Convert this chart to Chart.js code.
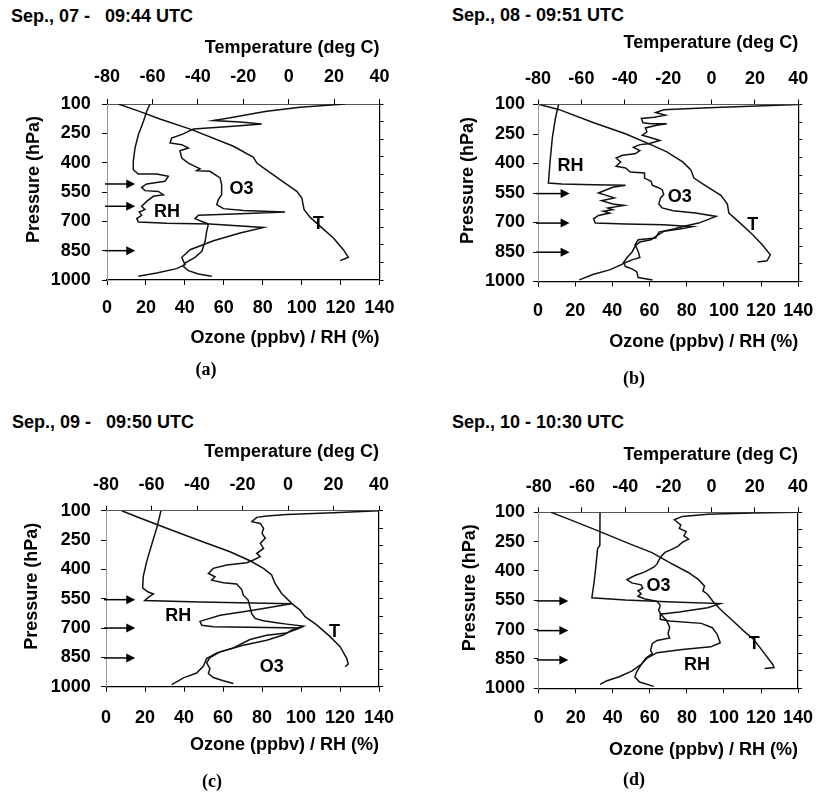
<!DOCTYPE html>
<html>
<head>
<meta charset="utf-8">
<script src="https://cdn.jsdelivr.net/npm/chart.js@4.4.1/dist/chart.umd.min.js"></script>
<style>
body { margin: 0; width: 827px; height: 798px; background: #fff; position: relative; overflow: hidden; }
canvas { position: absolute; }
.when { position: absolute; font: bold 18px "Liberation Sans", Arial, sans-serif; line-height: 21.6px; white-space: pre; color: #000; }
.cap { position: absolute; width: 60px; text-align: center; font: bold 18px "Liberation Serif", "Times New Roman", serif; line-height: 21.6px; color: #000; }
</style>
</head>
<body>
<div class="when" style="left:11px;top:6px">Sep., 07 -   09:44 UTC</div>
<div class="when" style="left:452px;top:5px">Sep., 08 - 09:51 UTC</div>
<div class="when" style="left:12px;top:412px">Sep., 09 -   09:50 UTC</div>
<div class="when" style="left:452px;top:412px">Sep., 10 - 10:30 UTC</div>

<canvas id="panelA" width="413" height="398" style="left:0;top:0"></canvas>
<canvas id="panelB" width="417" height="398" style="left:410px;top:0"></canvas>
<canvas id="panelC" width="413" height="400" style="left:0;top:398px"></canvas>
<canvas id="panelD" width="417" height="400" style="left:410px;top:398px"></canvas>

<div class="cap" style="left:176px;top:359px">(a)</div>
<div class="cap" style="left:604px;top:368px">(b)</div>
<div class="cap" style="left:182px;top:771px">(c)</div>
<div class="cap" style="left:604px;top:769px">(d)</div>

<script>
// profiles as [pressure (hPa), value]; T in deg C, O3 in ppbv, RH in %

// Sep 07
const tempA = [[100,-75],[139,-65.4],[177,-56.7],[231,-42.7],[316,-24.3],[373,-15.5],[402,-14.0],[427,-11.1],[487,-3.8],[547,3.6],[581,5.8],[640,6.8],[680,9.5],[726,13.9],[785,19.7],[845,24.1],[884,26.3],[901,22.7]];
const o3A = [[100,122.3],[117,99.2],[137,82.1],[146,76.9],[168,64.9],[185,54.7],[192,68.4],[202,79.5],[214,64.9],[228,44.4],[240,41.8],[253,39.2],[274,33.2],[299,32.4],[308,38.4],[325,41.8],[339,37.5],[376,38.4],[402,41.8],[419,45.2],[431,47.8],[441,46.1],[444,52.9],[461,55.5],[478,58.1],[512,58.9],[564,58.9],[589,57.2],[615,56.4],[635,59.8],[644,70.1],[652,91.5],[661,68.4],[669,47.0],[686,45.2],[697,47.8],[714,52.1],[751,51.2],[802,50.4],[853,48.7],[884,45.2],[913,40.1],[930,39.2],[952,41.8],[969,46.9],[981,53.8]];
const rhA = [[100,22.1],[137,20.4],[189,18.7],[257,16.1],[325,14.4],[393,13.5],[436,13.5],[458,16.1],[458,25.5],[470,31.5],[495,29.8],[509,20.4],[526,17.8],[543,19.5],[547,26.4],[564,29.0],[572,23.8],[598,20.4],[623,17.8],[640,19.5],[652,16.6],[669,17.8],[686,15.3],[703,16.1],[710,30.7],[714,52.9],[731,80.4],[760,68.4],[799,54.7],[845,42.7],[884,38.4],[922,40.1],[942,35.8],[964,25.5],[981,16.1]];
const arrowsA = [509, 623, 850];
const tagsA = [['O3', 69.1, 535], ['RH', 30.8, 652], ['T', 13.0, 714]];

// Sep 08
const tempB = [[100,-79.4],[125,-70.5],[193,-54.3],[249,-39.7],[304,-28.0],[341,-20.6],[392,-13.3],[431,-9.6],[474,-8.1],[511,-3.0],[562,4.3],[606,7.3],[652,8.0],[703,13.2],[762,19.0],[813,23.4],[864,27.1],[895,25.6],[901,21.2]];
const o3B = [[100,140],[117,91.6],[127,67.6],[141,63.3],[154,68.5],[165,62.5],[171,55.6],[193,56.5],[198,60.8],[198,69.3],[205,63.9],[219,57.8],[239,58.6],[256,56.1],[270,61.2],[283,65.6],[300,59.5],[304,54.8],[318,51.3],[334,54.8],[351,52.2],[358,45.4],[372,42.0],[392,44.5],[414,42.0],[423,47.1],[443,49.6],[448,57.3],[474,57.3],[491,60.8],[511,61.6],[521,64.2],[533,66.8],[558,67.6],[575,65.9],[606,65.0],[626,66.8],[640,72.7],[652,84.7],[669,95.8],[703,86.4],[720,77.9],[732,73.6],[749,65.0],[779,63.3],[788,53.9],[813,52.2],[847,53.9],[878,54.8],[890,50.5],[907,46.2],[924,47.1],[936,50.5],[950,53.1],[980,53.9],[992,61.6]];
const rhB = [[100,11.1],[168,9.4],[270,7.7],[389,6.5],[499,5.6],[504,12.8],[508,29.9],[511,47.1],[521,40.2],[550,32.5],[562,36.8],[575,41.1],[589,34.2],[606,40.2],[613,46.2],[626,37.6],[635,40.2],[643,35.1],[652,38.5],[664,32.5],[681,29.9],[703,30.8],[708,47.1],[711,67.6],[721,83.0],[733,76.2],[745,67.6],[766,64.2],[788,60.8],[799,54.8],[821,52.2],[851,50.5],[878,47.9],[912,45.4],[941,38.5],[963,29.9],[992,22.2]];
const arrowsB = [553, 703, 851];
const tagsB = [['RH', 17.5, 414], ['O3', 76.2, 570], ['T', 19.0, 715]];

// Sep 09
const tempC = [[100,-73.1],[131,-66.5],[190,-53.3],[254,-38.7],[310,-25.5],[356,-16.7],[395,-10.8],[429,-7.2],[472,-5.7],[523,-2.8],[574,1.6],[608,5.3],[642,7.5],[684,12.6],[744,18.5],[795,22.9],[855,25.8],[884,26.5],[898,25.1]];
const o3C = [[100,140],[110,116.6],[119,92.6],[127,82.4],[134,77.3],[156,74.8],[165,79.1],[190,80.8],[216,80.0],[241,81.7],[267,79.1],[293,80.8],[318,77.3],[335,79.1],[352,75.6],[366,72.2],[378,61.9],[395,55.0],[421,52.5],[438,55.9],[455,54.2],[468,60.2],[475,67.0],[503,69.6],[532,70.4],[557,72.9],[591,73.8],[625,74.7],[651,76.4],[663,80.7],[673,87.5],[680,92.6],[690,101.2],[711,95.2],[736,90.9],[762,82.4],[788,70.4],[822,58.5],[851,53.3],[878,51.6],[907,53.3],[933,52.5],[953,55.0],[970,60.2],[984,65.3]];
const rhC = [[100,28.2],[189,26.0],[274,23.4],[359,20.9],[436,19.1],[496,18.8],[516,21.7],[526,24.3],[543,21.7],[559,19.9],[567,48.2],[576,95.2],[612,73.8],[635,58.5],[666,48.2],[686,49.1],[693,55.0],[700,99.5],[726,92.6],[737,82.4],[759,73.8],[802,65.3],[827,56.8],[856,51.6],[896,49.9],[930,46.5],[955,39.7],[989,33.7]];
const arrowsC = [555, 700, 853];
const tagsC = [['RH', 37.1, 640], ['T', 20.4, 719], ['O3', 85.0, 901]];

// Sep 10
const tempD = [[100,-74.3],[127,-67.9],[195,-52.5],[264,-37.3],[306,-27.6],[357,-19.4],[409,-10.6],[443,-6.2],[477,-3.3],[502,-4.0],[519,-1.9],[562,1.1],[596,4.0],[656,9.9],[715,15.7],[749,19.4],[801,23.0],[877,28.2],[894,28.9],[899,24.5]];
const o3D = [[100,140],[103,115.1],[110,91.2],[121,77.5],[138,73.2],[151,74.9],[165,76.7],[182,75.9],[199,79.6],[220,78.4],[237,80.9],[254,77.5],[274,75.0],[291,71.5],[305,68.1],[322,66.4],[347,64.7],[364,63.9],[381,62.1],[406,57.0],[423,51.9],[444,47.6],[461,50.2],[471,55.3],[488,56.2],[501,53.6],[517,55.3],[529,53.6],[542,57.0],[556,63.9],[576,65.6],[602,64.7],[627,66.4],[653,69.0],[687,70.7],[721,69.8],[743,70.7],[755,63.9],[772,61.3],[806,60.4],[823,61.3],[845,57.9],[879,55.3],[917,52.8],[942,51.9],[968,54.5],[990,62.1]];
const rhD = [[100,33.1],[270,33.0],[285,31.8],[380,30.8],[450,30.0],[537,28.7],[549,46.8],[559,72.4],[567,98.0],[588,91.2],[610,75.8],[621,65.6],[647,65.6],[656,70.7],[668,87.8],[690,93.7],[724,96.3],[767,98.0],[788,92.9],[801,77.5],[818,63.9],[844,58.7],[878,55.3],[912,50.2],[941,43.4],[963,36.5],[980,33.1]];
const arrowsD = [553, 705, 855];
const tagsD = [['O3', 64.7, 477], ['RH', 85.4, 879], ['T', 19.7, 772]];

const SANS = '"Liberation Sans", Arial, sans-serif';
const boldFont = { family: SANS, size: 18, weight: 'bold' };

// arrows on the left edge and the O3 / RH / T tags
function marks(arrows, tags, tip) {
    return {
        id: 'marks',
        afterDatasetsDraw(chart) {
            const { ctx, scales } = chart;
            ctx.save();
            ctx.strokeStyle = '#000';
            ctx.fillStyle = '#000';
            ctx.lineWidth = 1.5;
            arrows.forEach(p => {
                const y = scales.y.getPixelForValue(p);
                const x0 = scales.x.getPixelForValue(-1);
                const x1 = scales.x.getPixelForValue(tip);
                ctx.beginPath();
                ctx.moveTo(x0, y);
                ctx.lineTo(x1 - 6, y);
                ctx.stroke();
                ctx.beginPath();
                ctx.moveTo(x1, y);
                ctx.lineTo(x1 - 9, y - 4.5);
                ctx.lineTo(x1 - 9, y + 4.5);
                ctx.closePath();
                ctx.fill();
            });
            ctx.font = 'bold 18px ' + SANS;
            ctx.textAlign = 'center';
            ctx.textBaseline = 'middle';
            tags.forEach(t => {
                const sc = t[0] === 'T' ? scales.xT : scales.x;
                ctx.fillText(t[0], sc.getPixelForValue(t[1]), scales.y.getPixelForValue(t[2]));
            });
            ctx.restore();
        }
    };
}

function profile(rows, axis) {
    return {
        data: rows.map(r => ({ x: r[1], y: r[0] })),
        xAxisID: axis,
        yAxisID: 'y',
        borderColor: '#111',
        borderWidth: 1.5,
        pointRadius: 0,
        fill: false,
        tension: 0
    };
}

function drawPanel(id, temp, o3, rh, arrows, tags, f) {
    const tickGrid = { drawOnChartArea: false, tickLength: 5, color: '#000', lineWidth: 1 };
    return new Chart(document.getElementById(id), {
        type: 'line',
        data: { datasets: [profile(rh, 'x'), profile(o3, 'x'), profile(temp, 'xT')] },
        options: {
            responsive: false,
            animation: false,
            devicePixelRatio: 1,
            layout: { padding: 0 },
            plugins: { legend: { display: false }, tooltip: { enabled: false } },
            scales: {
                x: {
                    type: 'linear', position: 'bottom', min: 0, max: 140,
                    ticks: { stepSize: 20, font: boldFont, color: '#000', padding: f.botPad, autoSkip: false, maxRotation: 0 },
                    grid: tickGrid,
                    border: { color: '#000', width: 1.2, dash: f.botDash },
                    title: { display: true, text: 'Ozone (ppbv) / RH (%)', align: 'end', font: boldFont, color: '#000', padding: { top: 0, bottom: f.botTitle } },
                    afterFit: s => { s.height = f.B; }
                },
                xT: {
                    type: 'linear', position: 'top', min: -80, max: 40,
                    ticks: { stepSize: 20, font: boldFont, color: '#000', padding: f.topPad, autoSkip: false, maxRotation: 0 },
                    grid: tickGrid,
                    border: { color: '#555', width: 1, dash: [4, 2] },
                    title: { display: true, text: 'Temperature (deg C)', align: 'end', font: boldFont, color: '#000', padding: { top: f.topTitle, bottom: 0 } },
                    afterFit: s => { s.height = f.T; }
                },
                y: {
                    type: 'linear', position: 'left', reverse: true, min: 100, max: 1000,
                    ticks: { stepSize: 150, font: boldFont, color: '#000', padding: f.leftPad, callback: v => String(v) },
                    grid: tickGrid,
                    border: { color: '#999', width: 1, dash: [2, 3] },
                    title: { display: true, text: '     Pressure (hPa)', align: 'center', font: boldFont, color: '#000', padding: { top: f.leftTitle, bottom: 0 } },
                    afterFit: s => { s.width = f.L; }
                },
                yR: {
                    type: 'linear', position: 'right', min: 0, max: 10,
                    ticks: { display: false, stepSize: 1 },
                    grid: { drawOnChartArea: false, tickLength: 4, color: '#000', lineWidth: 1 },
                    border: { color: '#000', width: 1.2 },
                    afterFit: s => { s.width = f.R; }
                }
            }
        },
        plugins: [marks(arrows, tags, f.tip)]
    });
}

drawPanel('panelA', tempA, o3A, rhA, arrowsA, tagsA,
    { L: 107, R: 33.5, T: 104, B: 118, topTitle: 37.5, topPad: 11.2, botPad: 12.7, botTitle: 48.9, leftPad: 11.3, leftTitle: 23.2, tip: 14.5, botDash: [] });
drawPanel('panelB', tempB, o3B, rhB, arrowsB, tagsB,
    { L: 128, R: 16, T: 104.5, B: 116.5, topTitle: 32.2, topPad: 9.9, botPad: 13.7, botTitle: 45.5, leftPad: 8, leftTitle: 47.5, tip: 17, botDash: [] });
drawPanel('panelC', tempC, o3C, rhC, arrowsC, tagsC,
    { L: 106, R: 34, T: 112.7, B: 111.3, topTitle: 42.9, topPad: 9.9, botPad: 15.5, botTitle: 42.2, leftPad: 10.3, leftTitle: 21.7, tip: 15, botDash: [5, 2] });
drawPanel('panelD', tempD, o3D, rhD, arrowsD, tagsD,
    { L: 128.7, R: 15, T: 114.3, B: 109.7, topTitle: 46.2, topPad: 9.8, botPad: 13.9, botTitle: 37.2, leftPad: 8.7, leftTitle: 49.2, tip: 16, botDash: [5, 2] });
</script>
</body>
</html>
